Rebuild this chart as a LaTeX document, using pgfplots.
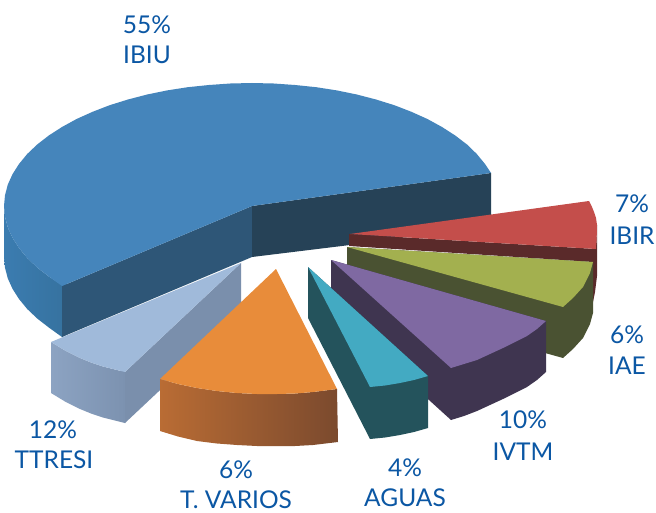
\documentclass[border=0pt]{standalone}
\usepackage{fontspec}
\setmainfont{Lato}
\usepackage{pgfplots}
\pgfplotsset{compat=1.18}
\definecolor{lab}{HTML}{0B57A4}
\definecolor{bluewallL}{HTML}{3B7CB0}
\definecolor{bluewallR}{HTML}{36729F}
\definecolor{bluecutL}{HTML}{2E5677}
\definecolor{bluecutR}{HTML}{264257}
\definecolor{bluetop}{HTML}{4585BB}
\definecolor{redwall}{HTML}{5A2A2A}
\definecolor{redtop}{HTML}{C44E4B}
\definecolor{greenwall}{HTML}{4A5232}
\definecolor{greentop}{HTML}{A3B04F}
\definecolor{purplewall}{HTML}{3F3550}
\definecolor{purpletop}{HTML}{7F69A2}
\definecolor{tealwall}{HTML}{24535C}
\definecolor{tealtop}{HTML}{43AAC2}
\definecolor{lightcut}{HTML}{7A8FAC}
\definecolor{lightL}{HTML}{8CA3C2}
\definecolor{lightR}{HTML}{7C92B0}
\definecolor{lighttop}{HTML}{A0BADA}
\definecolor{orangeL}{HTML}{B96C34}
\definecolor{orangeR}{HTML}{7B4A2E}
\definecolor{orangetop}{HTML}{E88C3A}
\newcommand{\lb}[3]{\node[text=lab,inner sep=0pt,font=\fontsize{24.5}{28}\selectfont,anchor=center] at (axis cs:#1,#2) {#3};}
\begin{document}
\begin{tikzpicture}
\begin{axis}[hide axis,scale only axis,width=656pt,height=513pt,xmin=0,xmax=656,ymin=0,ymax=513,y dir=reverse,no markers,clip=false]
\addplot[fill=white,draw=none] coordinates {(0,0)(656,0)(656,513)(0,513)} -- cycle;
% blue
\addplot[draw=none,left color=bluewallL,right color=bluewallR] coordinates {(4,206)(5,216.7)(7.8,227.4)(12.5,237.8)(19,248)(27.2,258)(37.2,267.5)(48.8,276.5)(62,285)(66,284)(66,335)(62,337)(48.8,327.5)(37.2,318.5)(27.2,309)(19,299)(12.5,288.8)(7.8,278.4)(5,267.7)(4,257)} -- cycle;
\addplot[draw=none,fill=bluecutL] coordinates {(62,286)(252,206)(252,257)(62,337)} -- cycle;
\addplot[draw=none,fill=bluecutR] coordinates {(252,206)(491,173)(491,224)(350,245)(252,257)} -- cycle;
\addplot[draw=none,fill=bluetop] coordinates {(252,206)(491,173)(485,164)(476.8,154)(467,144.5)(455.2,135.5)(442,127)(427.4,119)(411.4,111.8)(394.3,105.2)(376,99.5)(356.8,94.5)(336.8,90.4)(316.2,87.2)(295,85)(273.6,83.5)(252,83)(230.4,83.5)(209,85)(187.8,87.2)(167.2,90.4)(147.2,94.5)(128,99.5)(109.7,105.2)(92.6,111.8)(76.6,119)(62,127)(48.8,135.5)(37.2,144.5)(27.2,154)(19,164)(12.5,174.2)(7.8,184.6)(5,195.3)(4,206)(5,216.7)(7.8,227.4)(12.5,237.8)(19,248)(27.2,258)(37.2,267.5)(48.8,276.5)(62,286)} -- cycle;
% red
\addplot[draw=none,fill=redwall] coordinates {(349,234)(596,249)(597,225)(597,276)(595,292)(593,302)(593,262)(349,246)} -- cycle;
\addplot[draw=none,fill=redtop] coordinates {(350,234)(589,201)(592,207)(594,212)(596,218)(597,225)(596.7,237)(596,249)} -- cycle;
% green
\addplot[draw=none,fill=greenwall] coordinates {(347,247)(593,262)(593,313)(590,324)(583,338)(573,349)(563,358)(347,298)} -- cycle;
\addplot[draw=none,fill=greentop] coordinates {(347,247)(593,262)(590,273)(583,287)(573,298)(563,307)} -- cycle;
% purple
\addplot[draw=none,fill=purplewall] coordinates {(331,260)(546,321)(546,372)(537,380)(527,387)(515,393)(503,399)(490,405)(477,411)(464,416)(451,420)(331,311)} -- cycle;
\addplot[draw=none,fill=purpletop] coordinates {(331,260)(546,321)(537,329)(527,336)(515,342)(503,348)(490,354)(477,360)(464,364)(451,368)} -- cycle;
% teal
\addplot[draw=none,fill=tealwall] coordinates {(308,267)(428,376)(428,428)(414,432)(400,435)(385,437.5)(370,439)(308,318)} -- cycle;
\addplot[draw=none,fill=tealtop] coordinates {(308,267)(428,376)(414,380)(400,383)(385,385.5)(370,387)} -- cycle;
% light blue
\addplot[draw=none,fill=lightcut] coordinates {(241,263)(241,314)(125,423)(120,419)(120,368)(125,372)} -- cycle;
\addplot[draw=none,left color=lightL,right color=lightR] coordinates {(51,342)(65,350.5)(80,358)(91,362.5)(103,366.5)(125,372)(125,423)(103,417.5)(91,413.5)(80,409)(65,401.5)(51,393)} -- cycle;
\addplot[draw=none,fill=lighttop] coordinates {(241,263)(51,342)(65,350.5)(80,358)(91,362.5)(103,366.5)(125,372)} -- cycle;
% orange
\addplot[draw=none,left color=orangeL,right color=orangeR] coordinates {(160,379)(178,384)(197,388)(217,391)(237,393)(257,394)(277,394)(295,393.5)(313,392)(337,389)(338,442)(313,445)(295,446)(277,446)(257,446)(237,445)(217,443.5)(197,441)(178,436.5)(160,431)} -- cycle;
\addplot[draw=none,fill=orangetop] coordinates {(276,269)(160,379)(178,384)(197,388)(217,391)(237,393)(257,394)(277,394)(295,393.5)(313,392)(337,389)} -- cycle;
\lb{147}{25}{55\%}
\lb{147}{55}{IBIU}
\lb{632}{204}{7\%}
\lb{632}{236}{IBIR}
\lb{627}{335}{6\%}
\lb{627}{366}{IAE}
\lb{523}{420}{10\%}
\lb{523}{452}{IVTM}
\lb{405}{468}{4\%}
\lb{405}{498}{AGUAS}
\lb{236}{470}{6\%}
\lb{236}{500}{T. VARIOS}
\lb{53}{430}{12\%}
\lb{54}{460}{TTRESI}
\end{axis}
\end{tikzpicture}
\end{document}
